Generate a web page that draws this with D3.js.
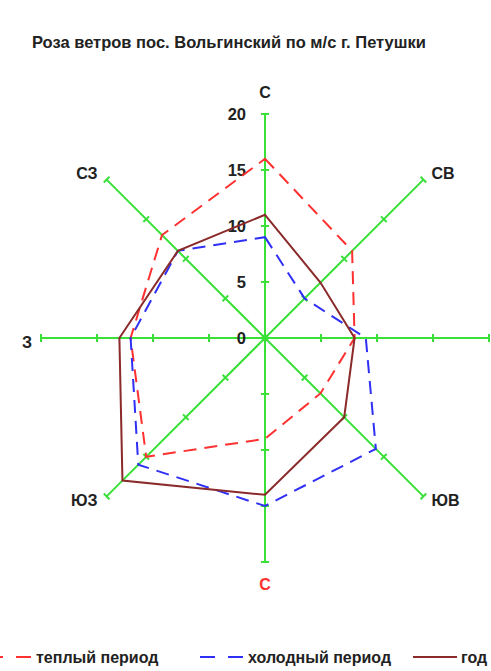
<!DOCTYPE html>
<html>
<head>
<meta charset="utf-8">
<script src="https://cdn.jsdelivr.net/npm/d3@7"></script>
<style>
  body { margin: 0; background: #fff; }
  text { font-family: "Liberation Sans", Arial, sans-serif; font-weight: bold; }
</style>
</head>
<body>
<div id="canvas"></div>
<script>
// directions, clockwise from north (bottom label is red "С" in the source)
const directions = ["С", "СВ", "В", "ЮВ", "С", "ЮЗ", "З", "СЗ"];
const warmValues = [16, 11, 8, 7, 9, 15, 12, 13];   // теплый период
const coldValues = [9, 5, 9, 14, 15, 16, 12, 11];   // холодный период
const yearValues = [11, 7, 8, 10, 14, 18, 13, 11];  // год
const tickValues = [0, 5, 10, 15, 20];

const width = 491;
const height = 671;
const cx = 265, cy = 338;
const green = "#38e038";

const series = [
    { name: "теплый период", values: warmValues, color: "#ff3030", dash: "13,8" },
    { name: "холодный период", values: coldValues, color: "#2f2ff5", dash: "13,8" },
    { name: "год", values: yearValues, color: "#8b2a2a", dash: null }
];

const svg = d3.select("#canvas")
    .append("svg")
    .attr("width", width)
    .attr("height", height);

svg.append("text")
    .attr("x", 32)
    .attr("y", 48)
    .attr("font-size", "16.5px")
    .attr("fill", "#222")
    .text("Роза ветров пос. Вольгинский по м/с г. Петушки");

const r = d3.scaleLinear().domain([0, 20]).range([0, 224]);
const angle = d3.scaleLinear().domain([0, directions.length]).range([0, 2 * Math.PI]);

function pt(i, v) {
    const a = angle(i);
    return [cx + r(v) * Math.sin(a), cy - r(v) * Math.cos(a)];
}

const chart = svg.append("g");

// axes with ticks
directions.forEach((d, i) => {
    const end = pt(i, 20);
    chart.append("line")
        .attr("x1", cx).attr("y1", cy)
        .attr("x2", end[0]).attr("y2", end[1])
        .attr("stroke", green)
        .attr("stroke-width", 2);

    const a = angle(i);
    const px = Math.cos(a) * 4, py = Math.sin(a) * 4;
    tickValues.slice(1).forEach(v => {
        const p = pt(i, v);
        chart.append("line")
            .attr("x1", p[0] - px).attr("y1", p[1] - py)
            .attr("x2", p[0] + px).attr("y2", p[1] + py)
            .attr("stroke", green)
            .attr("stroke-width", 2);
    });

    // direction labels (the east one falls outside the picture, as in the source)
    const lx = Math.sin(a), ly = -Math.cos(a);
    let anchor = "middle", tx = end[0], ty = end[1];
    if (lx > 0.1) { anchor = "start"; tx += 8; }
    else if (lx < -0.1) { anchor = "end"; tx -= 9; }
    if (Math.abs(lx) < 0.1) ty += ly > 0 ? 22 : -22;
    else ty += ly < 0 ? -6 : 4;
    if (tx > width - 5) return;
    chart.append("text")
        .attr("x", tx).attr("y", ty)
        .attr("dy", "0.35em")
        .attr("text-anchor", anchor)
        .attr("font-size", "16px")
        .attr("fill", i === 4 ? "#ff3030" : "#222")
        .text(d);
});

chart.append("circle")
    .attr("cx", cx).attr("cy", cy)
    .attr("r", 3.5)
    .attr("fill", green);

// radial tick labels on the north axis
chart.selectAll("text.tick")
    .data(tickValues)
    .join("text")
    .attr("class", "tick")
    .attr("x", cx - 19)
    .attr("y", d => cy - r(d))
    .attr("dy", "0.35em")
    .attr("text-anchor", "end")
    .attr("font-size", "16.5px")
    .attr("fill", "#222")
    .text(d => d);

const line = d3.lineRadial()
    .angle((d, i) => angle(i))
    .radius(d => r(d))
    .curve(d3.curveLinearClosed);

series.forEach(s => {
    chart.append("path")
        .attr("transform", `translate(${cx},${cy})`)
        .attr("d", line(s.values))
        .attr("fill", "none")
        .attr("stroke", s.color)
        .attr("stroke-width", 2)
        .attr("stroke-dasharray", s.dash);
});

// legend
const legendX = [-12, 200, 413];
const legend = svg.append("g")
    .selectAll("g")
    .data(series)
    .join("g")
    .attr("transform", (d, i) => `translate(${legendX[i]},657)`);

legend.append("line")
    .attr("x1", 0).attr("x2", 44)
    .attr("stroke", d => d.color)
    .attr("stroke-width", 2)
    .attr("stroke-dasharray", d => d.dash ? "15,13" : null);

legend.append("text")
    .attr("x", 48)
    .attr("dy", "0.35em")
    .attr("font-size", "16px")
    .attr("fill", "#222")
    .text(d => d.name);
</script>
</body>
</html>
